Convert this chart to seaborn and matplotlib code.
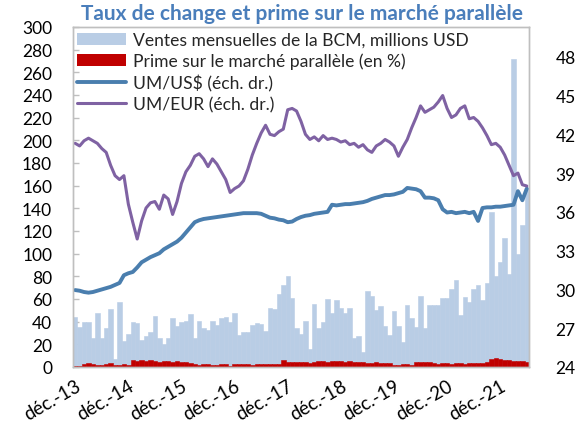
import numpy as np
import pandas as pd
import matplotlib
matplotlib.use("Agg")
import matplotlib.pyplot as plt
import seaborn as sns
from matplotlib.patches import Patch
from matplotlib.lines import Line2D

# Monthly BCM sales, millions USD (Dec 2013 onward)
sales = [44, 35, 40, 40, 26, 48, 26, 34, 51, 7, 57, 23, 29, 40, 39, 24, 27, 31, 45, 26,
         20, 26, 43, 36, 40, 41, 47, 26, 41, 34, 33, 41, 37, 43, 44, 40, 48, 28, 31, 31,
         37, 39, 38, 32, 52, 51, 64, 72, 80, 61, 34, 29, 41, 16,
         56, 34, 40, 60, 48, 59, 52, 48, 52, 26, 27, 13, 67, 63, 50, 54, 36, 28, 49, 36,
         22, 55, 43, 35, 63, 34, 55, 55, 55, 61, 61, 69, 77, 46, 62, 57, 69, 72, 59, 74,
         137, 80, 93, 114, 82, 272, 100, 125, 158]

# Parallel market premium (%)
premium = [0.5, 0.8, 3.0, 3.3, 2.5, 1.5, 1.5, 3.0, 3.2, 2.2, 2.0, 2.5, 2.0, 6.5,
           5.5, 6.0, 5.2, 5.8, 5.5, 4.8, 5.0, 5.5, 4.5, 5.0, 4.2, 4.0, 3.5, 3.0, 2.0,
           2.5, 2.8, 2.2, 2.0, 2.5, 3.0, 1.0, 2.7, 2.5, 2.8, 3.0, 1.5, 2.6, 2.8, 2.3,
           2.6, 2.5, 2.8, 6.0, 4.0, 4.3, 4.2, 4.5, 4.0, 3.8, 4.5, 5.0, 5.2, 4.6, 5.0,
           5.5, 5.0, 4.8, 5.2, 4.5, 4.0, 4.2, 3.5, 3.8, 4.0, 3.5, 3.8, 3.2, 2.2, 2.0,
           2.5, 2.3, 2.0, 4.0, 4.5, 4.2, 4.0, 3.5, 3.0, 3.2, 3.5, 3.0, 3.3, 3.5, 3.0,
           3.2, 3.6, 3.4, 3.8, 4.5, 7.5, 8.0, 7.0, 6.0, 5.8, 5.5, 5.7, 5.2, 4.5]

# UM/US$ (right axis)
usd = [29.95, 29.9, 29.8, 29.75, 29.8, 29.9, 30.0, 30.1, 30.2, 30.35, 30.5, 31.1,
       31.25, 31.35, 31.7, 32.1, 32.3, 32.5, 32.65, 32.8, 33.1, 33.3, 33.5, 33.7,
       34.0, 34.4, 34.8, 35.2, 35.35, 35.45, 35.5, 35.55, 35.6, 35.65, 35.7, 35.75,
       35.8, 35.85, 35.9, 35.9, 35.9, 35.9, 35.85, 35.7, 35.55, 35.5, 35.4, 35.35,
       35.2, 35.25, 35.45, 35.6, 35.7, 35.75, 35.85, 35.9, 35.95, 36.0, 36.55, 36.5,
       36.55, 36.6, 36.6, 36.65, 36.7, 36.75, 36.85, 37.0, 37.1, 37.2, 37.3, 37.3,
       37.35, 37.45, 37.55, 37.85, 37.8, 37.75, 37.6, 37.1, 37.1, 37.05, 36.9, 36.2,
       35.95, 36.0, 35.9, 35.95, 36.0, 35.9, 36.0, 35.3, 36.3, 36.35, 36.35, 36.4,
       36.4, 36.45, 36.5, 36.55, 37.6, 36.9, 37.8]

# UM/EUR (right axis)
eur = [41.3, 41.1, 41.5, 41.7, 41.5, 41.3, 40.9, 40.6, 39.6, 38.8, 38.5, 38.8,
       36.6, 35.2, 33.9, 35.3, 36.3, 36.7, 36.8, 36.2, 37.3, 37.0, 35.8, 36.8,
       38.2, 39.1, 39.6, 40.3, 40.5, 40.1, 39.5, 40.1, 39.7, 39.1, 38.5, 37.5,
       37.8, 38.0, 38.4, 39.3, 40.4, 41.3, 42.1, 42.7, 42.0, 41.9, 42.2, 42.4,
       43.9, 44.0, 43.8, 43.0, 42.0, 41.6, 41.8, 41.5, 41.9, 41.6, 41.7, 41.6,
       41.4, 41.5, 41.2, 41.3, 41.0, 41.2, 40.8, 40.6, 41.1, 41.3, 41.6, 41.4,
       41.1, 40.3, 41.0, 41.6, 42.5, 43.3, 44.2, 43.7, 43.9, 44.1, 44.5, 45.0,
       44.0, 43.3, 43.5, 44.0, 44.2, 43.2, 43.3, 43.0, 42.5, 41.9, 41.2, 41.3,
       41.0, 40.4, 39.6, 38.8, 39.0, 38.1, 38.0]

tick_labels = ["déc.-13", "déc.-14", "déc.-15", "déc.-16", "déc.-17",
               "déc.-18", "déc.-19", "déc.-20", "déc.-21"]
tick_months = [0, 12, 24, 36, 48, 60, 72, 84, 96]

legend_labels = ["Ventes mensuelles de la BCM, millions USD",
                 "Prime sur le marché parallèle (en %)",
                 "UM/US$ (éch. dr.)",
                 "UM/EUR (éch. dr.)"]
title = "Taux de change et prime sur le marché parallèle"

c_sales = "#B9CDE5"
c_prem = "#C00000"
c_usd = "#4A7EAE"
c_eur = "#7F62A3"
c_spine = "#BFBFBF"

sns.set_theme(style="white")
plt.rcParams['font.family'] = ['Lato', 'DejaVu Sans']

n = len(sales)
df = pd.DataFrame({"m": np.arange(n), "sales": sales, "premium": premium,
                   "usd": usd, "eur": eur})

W, H = 577, 427
fig = plt.figure(figsize=(W / 100, H / 100), dpi=100)
ax = fig.add_axes([73 / W, 1 - 368 / H, (529 - 73) / W, (368 - 28) / H])

sns.barplot(data=df, x="m", y="sales", native_scale=True, width=1.0,
            color=c_sales, saturation=1, ax=ax, linewidth=0.4,
            edgecolor=c_sales, errorbar=None)
sns.barplot(data=df, x="m", y="premium", native_scale=True, width=1.0,
            color=c_prem, saturation=1, ax=ax, linewidth=0.4,
            edgecolor=c_prem, errorbar=None)

ax.set_xlim(-0.5, n - 0.5)
ax.set_ylim(0, 300)
ax.set_yticks(range(0, 301, 20))
ax.set_xticks(tick_months)
ax.set_xticklabels(tick_labels)
ax.set_xlabel("")
ax.set_ylabel("")

ax2 = ax.twinx()
sns.lineplot(data=df, x="m", y="usd", color=c_usd, linewidth=2.8, ax=ax2)
sns.lineplot(data=df, x="m", y="eur", color=c_eur, linewidth=2.2, ax=ax2)
ax2.set_ylim(24, 50.3)
ax2.set_yticks(range(24, 49, 3))
ax2.set_xlim(-0.5, n - 0.5)
ax2.set_xlabel("")
ax2.set_ylabel("")

for a in (ax, ax2):
    for s in a.spines.values():
        s.set_color(c_spine)
        s.set_linewidth(1.0)

ax.tick_params(axis="y", direction="in", length=4, width=1, color=c_spine,
               pad=15, labelsize=12.5, labelcolor="black", left=True)
ax.tick_params(axis="x", direction="in", length=3, width=1, color=c_spine,
               pad=7, labelsize=13.5, labelcolor="black", bottom=True)
ax2.tick_params(axis="y", length=0, pad=19, labelsize=12.5, labelcolor="black")
plt.setp(ax.get_xticklabels(), rotation=30, ha="right", va="top",
         rotation_mode="anchor")

handles = [Patch(facecolor=c_sales, edgecolor="none"),
           Patch(facecolor=c_prem, edgecolor="none"),
           Line2D([], [], color=c_usd, linewidth=2.8),
           Line2D([], [], color=c_eur, linewidth=2.2)]
ax2.legend(handles, legend_labels, loc="upper left",
           bbox_to_anchor=(77 / W, 1 - 33 / H), bbox_transform=fig.transFigure,
           frameon=False, fontsize=12.6, handlelength=2.8, handletextpad=0.4,
           labelspacing=0.28, borderpad=0, borderaxespad=0)

fig.text(302 / W, 1 - 14 / H, title, ha="center", va="center",
         fontsize=15, fontweight="bold", color="#4A7EBB")

fig.savefig("out.png", dpi=100)
